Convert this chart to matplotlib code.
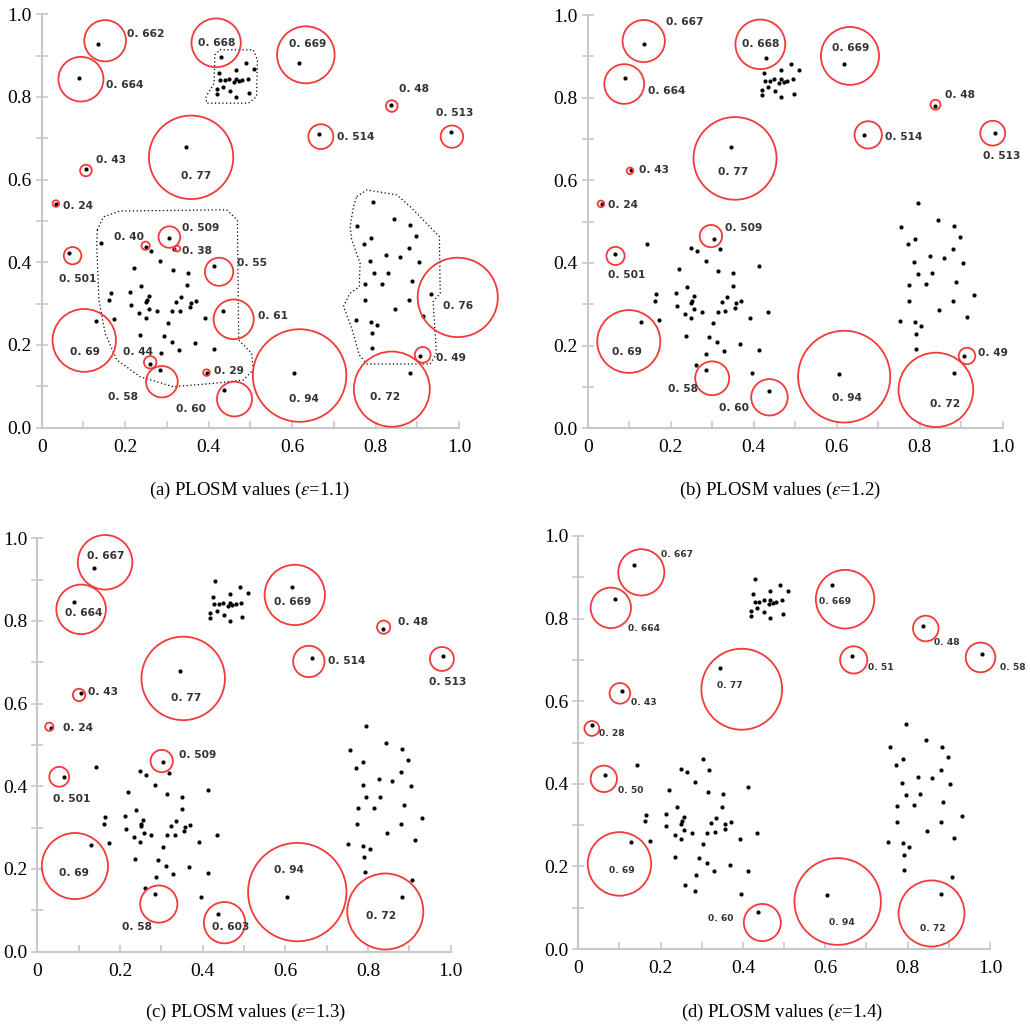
import matplotlib.pyplot as plt
from matplotlib.patches import Circle, Polygon

plt.rcParams['font.family'] = 'Liberation Serif'
plt.rcParams['mathtext.fontset'] = 'stix'

# data objects (the same set in every panel)
pts_x = [0.429, 0.424, 0.428, 0.440, 0.450, 0.434, 0.419, 0.419, 0.451, 0.466,
         0.466, 0.462, 0.472, 0.481, 0.494, 0.490, 0.509, 0.466, 0.496,
         0.136, 0.089, 0.617, 0.345, 0.665, 0.837, 0.981, 0.105, 0.034, 0.065,
         0.304, 0.249, 0.263, 0.318, 0.412, 0.434, 0.129, 0.260, 0.284, 0.395,
         0.437, 0.605, 0.882, 0.907, 0.932, 0.913,
         0.142, 0.220, 0.284, 0.315, 0.351, 0.349, 0.239, 0.212, 0.165, 0.161,
         0.256, 0.252, 0.250, 0.335, 0.323, 0.357, 0.370, 0.356, 0.214, 0.257,
         0.276, 0.234, 0.249, 0.313, 0.332, 0.392, 0.303, 0.173, 0.236, 0.292,
         0.312, 0.368, 0.329, 0.413, 0.286,
         0.795, 0.844, 0.756, 0.883, 0.897, 0.789, 0.772, 0.881, 0.826, 0.859,
         0.787, 0.904, 0.796, 0.830, 0.815, 0.775, 0.887, 0.774, 0.881, 0.847,
         0.752, 0.788, 0.804, 0.791, 0.792]
pts_y = [0.896, 0.859, 0.840, 0.840, 0.844, 0.825, 0.819, 0.806, 0.815, 0.866,
         0.844, 0.836, 0.838, 0.840, 0.844, 0.881, 0.867, 0.801, 0.810,
         0.929, 0.847, 0.881, 0.680, 0.710, 0.781, 0.715, 0.625, 0.542, 0.422,
         0.459, 0.436, 0.428, 0.433, 0.392, 0.281, 0.258, 0.154, 0.140, 0.133,
         0.090, 0.131, 0.133, 0.174, 0.323, 0.269,
         0.446, 0.385, 0.404, 0.381, 0.375, 0.345, 0.343, 0.327, 0.325, 0.309,
         0.319, 0.309, 0.303, 0.317, 0.305, 0.302, 0.307, 0.291, 0.297, 0.288,
         0.281, 0.277, 0.266, 0.282, 0.283, 0.266, 0.254, 0.262, 0.223, 0.221,
         0.208, 0.204, 0.188, 0.190, 0.180,
         0.545, 0.505, 0.488, 0.489, 0.464, 0.459, 0.445, 0.434, 0.417, 0.413,
         0.403, 0.400, 0.373, 0.375, 0.348, 0.347, 0.355, 0.308, 0.308, 0.286,
         0.260, 0.256, 0.248, 0.228, 0.192]

# (label, circle x, circle y, radius, label x, label y)
circles_a = [("0. 662", 0.152, 0.936, 0.050, 0.204, 0.953),
             ("0. 664", 0.094, 0.843, 0.054, 0.154, 0.828),
             ("0. 668", 0.418, 0.931, 0.059, 0.375, 0.931),
             ("0. 669", 0.633, 0.902, 0.069, 0.593, 0.928),
             ("0. 77", 0.358, 0.654, 0.101, 0.333, 0.609),
             ("0. 43", 0.106, 0.622, 0.014, 0.129, 0.647),
             ("0. 24", 0.034, 0.542, 0.008, 0.052, 0.537),
             ("0. 514", 0.669, 0.704, 0.030, 0.707, 0.704),
             ("0. 48", 0.839, 0.778, 0.014, 0.857, 0.819),
             ("0. 513", 0.983, 0.704, 0.027, 0.945, 0.760),
             ("0. 501", 0.074, 0.416, 0.021, 0.042, 0.360),
             ("0. 509", 0.306, 0.461, 0.026, 0.336, 0.484),
             ("0. 40", 0.249, 0.440, 0.010, 0.174, 0.460),
             ("0. 38", 0.325, 0.433, 0.007, 0.336, 0.428),
             ("0. 55", 0.425, 0.377, 0.034, 0.469, 0.399),
             ("0. 61", 0.460, 0.262, 0.048, 0.519, 0.271),
             ("0. 69", 0.102, 0.211, 0.076, 0.069, 0.184),
             ("0. 44", 0.260, 0.158, 0.015, 0.196, 0.182),
             ("0. 58", 0.288, 0.111, 0.038, 0.160, 0.073),
             ("0. 29", 0.395, 0.133, 0.008, 0.414, 0.138),
             ("0. 60", 0.462, 0.069, 0.042, 0.322, 0.044),
             ("0. 94", 0.618, 0.126, 0.112, 0.593, 0.069),
             ("0. 72", 0.839, 0.093, 0.091, 0.787, 0.073),
             ("0. 49", 0.913, 0.176, 0.019, 0.945, 0.169),
             ("0. 76", 0.997, 0.315, 0.096, 0.961, 0.294)]

circles_b = [("0. 667", 0.135, 0.937, 0.051, 0.188, 0.982),
             ("0. 664", 0.088, 0.833, 0.048, 0.145, 0.817),
             ("0. 668", 0.416, 0.929, 0.060, 0.371, 0.931),
             ("0. 669", 0.632, 0.901, 0.070, 0.588, 0.921),
             ("0. 77", 0.355, 0.653, 0.100, 0.313, 0.621),
             ("0. 43", 0.102, 0.623, 0.008, 0.124, 0.625),
             ("0. 24", 0.032, 0.543, 0.008, 0.050, 0.540),
             ("0. 514", 0.676, 0.710, 0.033, 0.716, 0.704),
             ("0. 48", 0.838, 0.783, 0.012, 0.861, 0.806),
             ("0. 513", 0.976, 0.714, 0.030, 0.953, 0.659),
             ("0. 501", 0.067, 0.417, 0.022, 0.050, 0.371),
             ("0. 509", 0.297, 0.465, 0.027, 0.331, 0.484),
             ("0. 69", 0.099, 0.210, 0.076, 0.059, 0.184),
             ("0. 58", 0.300, 0.121, 0.041, 0.194, 0.094),
             ("0. 60", 0.438, 0.075, 0.044, 0.317, 0.048),
             ("0. 94", 0.618, 0.125, 0.111, 0.588, 0.073),
             ("0. 72", 0.839, 0.093, 0.090, 0.825, 0.058),
             ("0. 49", 0.914, 0.175, 0.020, 0.941, 0.183)]

circles_c = [("0. 667", 0.164, 0.942, 0.066, 0.121, 0.957),
             ("0. 664", 0.106, 0.828, 0.060, 0.068, 0.819),
             ("0. 669", 0.623, 0.863, 0.073, 0.573, 0.847),
             ("0. 77", 0.353, 0.661, 0.101, 0.323, 0.613),
             ("0. 43", 0.101, 0.621, 0.015, 0.123, 0.627),
             ("0. 24", 0.029, 0.544, 0.010, 0.061, 0.542),
             ("0. 514", 0.657, 0.702, 0.038, 0.704, 0.702),
             ("0. 48", 0.838, 0.785, 0.016, 0.873, 0.797),
             ("0. 513", 0.979, 0.708, 0.029, 0.948, 0.653),
             ("0. 501", 0.053, 0.423, 0.024, 0.039, 0.369),
             ("0. 509", 0.301, 0.461, 0.027, 0.343, 0.476),
             ("0. 69", 0.091, 0.207, 0.080, 0.053, 0.191),
             ("0. 58", 0.294, 0.115, 0.045, 0.204, 0.060),
             ("0. 603", 0.453, 0.070, 0.050, 0.423, 0.060),
             ("0. 94", 0.629, 0.144, 0.119, 0.573, 0.198),
             ("0. 72", 0.842, 0.097, 0.092, 0.795, 0.085)]

circles_d = [("0. 667", 0.153, 0.912, 0.056, 0.200, 0.954),
             ("0. 664", 0.079, 0.826, 0.049, 0.121, 0.777),
             ("0. 669", 0.648, 0.847, 0.071, 0.585, 0.841),
             ("0. 77", 0.397, 0.629, 0.098, 0.337, 0.639),
             ("0. 43", 0.101, 0.619, 0.025, 0.128, 0.596),
             ("0. 28", 0.033, 0.534, 0.018, 0.050, 0.522),
             ("0. 51", 0.669, 0.700, 0.033, 0.703, 0.682),
             ("0. 48", 0.844, 0.776, 0.031, 0.865, 0.742),
             ("0. 58", 0.977, 0.706, 0.036, 1.024, 0.682),
             ("0. 50", 0.062, 0.412, 0.032, 0.096, 0.383),
             ("0. 69", 0.100, 0.206, 0.077, 0.075, 0.190),
             ("0. 60", 0.447, 0.064, 0.045, 0.316, 0.074),
             ("0. 94", 0.630, 0.115, 0.105, 0.609, 0.064),
             ("0. 72", 0.858, 0.086, 0.080, 0.830, 0.050)]

# dotted cluster outlines in panel (a)
outline_top = [(0.427, 0.914), (0.507, 0.914), (0.517, 0.890), (0.515, 0.801),
               (0.495, 0.785), (0.395, 0.785), (0.394, 0.801), (0.413, 0.833),
               (0.415, 0.902)]
outline_left = [(0.133, 0.478), (0.148, 0.510), (0.188, 0.524), (0.443, 0.527),
                (0.469, 0.502), (0.472, 0.212), (0.503, 0.180), (0.507, 0.140),
                (0.483, 0.115), (0.411, 0.107), (0.315, 0.099), (0.236, 0.123),
                (0.180, 0.164), (0.152, 0.228), (0.137, 0.309), (0.132, 0.438)]
outline_right = [(0.755, 0.559), (0.779, 0.575), (0.851, 0.563), (0.883, 0.535),
                 (0.953, 0.462), (0.955, 0.325), (0.938, 0.305), (0.946, 0.180),
                 (0.931, 0.154), (0.779, 0.154), (0.761, 0.176), (0.743, 0.240),
                 (0.723, 0.293), (0.739, 0.325), (0.761, 0.341), (0.763, 0.398),
                 (0.743, 0.454), (0.739, 0.486), (0.747, 0.535)]

captions = [r"(a) PLOSM values ($\varepsilon$=1.1)",
            r"(b) PLOSM values ($\varepsilon$=1.2)",
            r"(c) PLOSM values ($\varepsilon$=1.3)",
            r"(d) PLOSM values ($\varepsilon$=1.4)"]

W, H = 1030, 1026
fig = plt.figure(figsize=(W / 100, H / 100), dpi=100)

# axes boxes in pixels: left, top(of y=1), width, height
boxes = [(41.7, 14.3, 417.3, 413.3), (587.7, 15.0, 415.0, 413.3),
         (37.3, 538.3, 413.3, 413.3), (578.3, 536.0, 411.7, 413.0)]
caption_pos = [(250, 490), (780, 490), (246, 1012), (782, 1012)]
all_circles = [circles_a, circles_b, circles_c, circles_d]
label_size = [7.7, 7.7, 7.7, 6.6]

for i, (l, t, w, h) in enumerate(boxes):
    ax = fig.add_axes([l / W, 1 - (t + h) / H, w / W, h / H])
    ax.set_xlim(0, 1)
    ax.set_ylim(0, 1)
    for s in ['top', 'right']:
        ax.spines[s].set_visible(False)
    for s in ['left', 'bottom']:
        ax.spines[s].set_color('#c8c8c8')
        ax.spines[s].set_linewidth(1.5)
    ax.set_xticks([0, 0.2, 0.4, 0.6, 0.8, 1.0])
    ax.set_xticklabels(['0', '0.2', '0.4', '0.6', '0.8', '1.0'])
    ax.set_yticks([0, 0.2, 0.4, 0.6, 0.8, 1.0])
    ax.set_yticklabels(['0.0', '0.2', '0.4', '0.6', '0.8', '1.0'])
    ax.set_xticks([0.1, 0.3, 0.5, 0.7, 0.9], minor=True)
    ax.set_yticks([0.1, 0.3, 0.5, 0.7, 0.9], minor=True)
    ax.tick_params(axis='both', which='both', colors='#c8c8c8', labelcolor='black',
                   labelsize=14, width=1.2)
    ax.tick_params(axis='y', which='both', direction='inout', length=8, pad=3)
    ax.tick_params(axis='x', which='both', direction='in', length=5, pad=8)

    ax.scatter(pts_x, pts_y, s=9, color='black', zorder=3, linewidths=0)

    for lab, cx, cy, r, tx, ty in all_circles[i]:
        ax.add_patch(Circle((cx, cy), r, fill=False, edgecolor='#f23a3a',
                            linewidth=1.3, clip_on=False, zorder=4))
        ax.text(tx, ty, lab, fontsize=label_size[i], family='DejaVu Sans',
                fontweight='bold', color='#333333', va='center', ha='left',
                clip_on=False, zorder=5)

    if i == 0:
        for poly in [outline_top, outline_left, outline_right]:
            ax.add_patch(Polygon(poly, closed=True, fill=False, edgecolor='black',
                                 linewidth=0.9, linestyle=(0, (1, 2)), zorder=2))

    cx, cy = caption_pos[i]
    fig.text(cx / W, 1 - cy / H, captions[i], fontsize=13.5, ha='center', va='center')

fig.savefig('out.png', dpi=100)
